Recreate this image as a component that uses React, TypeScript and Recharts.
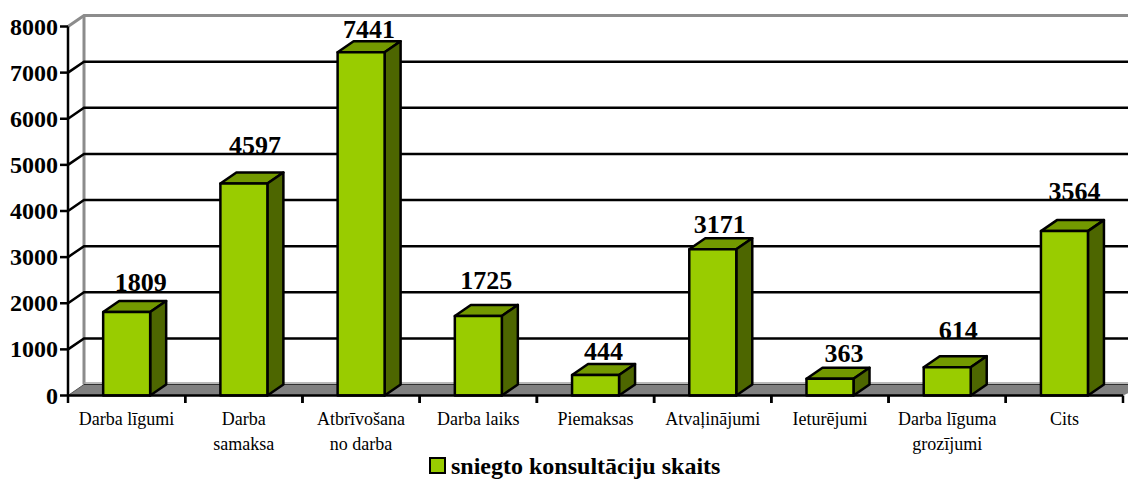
import React from "react";
import { BarChart, Bar, XAxis, YAxis, Legend, LabelList, CartesianGrid } from "recharts";

const categories = ["Darba līgumi", "Darba samaksa", "Atbrīvošana no darba", "Darba laiks", "Piemaksas", "Atvaļinājumi", "Ieturējumi", "Darba līguma grozījumi", "Cits"];
const categoryLines = [["Darba līgumi"], ["Darba", "samaksa"], ["Atbrīvošana", "no darba"], ["Darba laiks"], ["Piemaksas"], ["Atvaļinājumi"], ["Ieturējumi"], ["Darba līguma", "grozījumi"], ["Cits"]];
const values = [1809, 4597, 7441, 1725, 444, 3171, 363, 614, 3564];
const yTicks = [0, 1000, 2000, 3000, 4000, 5000, 6000, 7000, 8000];
const seriesName = "sniegto konsultāciju skaits";

// label placement relative to the bar's top-centre
const labelNudgeX = [14, 11, 8, 8, 8, 7, 14, 11, 10];
const labelNudgeY = [-21, -29, -14, -26.5, -15, -16, -17, -28, -31];

const W = 1128, H = 479;
const PLOT_L = 68, PLOT_R = 1123;
const DX = 16, DY = -11;
const BAND = (PLOT_R - PLOT_L) / categories.length;
const SERIF = "'Liberation Serif', 'Times New Roman', serif";
const LINE = 2.5;

const rows = categories.map((name, i) => ({ name, value: values[i] }));

function GridLine(props: any) {
  const { y1, y, height } = props;
  const ax = PLOT_L;
  const isTop = y1 <= y + 0.5;
  const isBottom = y1 >= y + height - 0.5;
  if (isBottom) {
    return (
      <g>
        <line x1={ax + DX} y1={y + DY} x2={ax + DX} y2={y1 + DY} stroke="#8c8c8c" strokeWidth={3} />
        <polygon points={`${ax},${y1} ${ax + DX},${y1 + DY} ${W + 20},${y1 + DY} ${PLOT_R},${y1}`} fill="#808080" stroke="none" />
        <line x1={ax + DX} y1={y1 + DY - 1.5} x2={W} y2={y1 + DY - 1.5} stroke="#a0a0a0" strokeWidth={1.5} />
        <line x1={ax} y1={y1} x2={ax + DX} y2={y1 + DY} stroke="#555" strokeWidth={1} />
        <line x1={ax + DX} y1={y1 + DY} x2={W} y2={y1 + DY} stroke="#303030" strokeWidth={1} />
      </g>
    );
  }
  if (isTop) {
    return <path d={`M${ax},${y1} L${ax + DX},${y1 + DY} L${W},${y1 + DY}`} fill="none" stroke="#8c8c8c" strokeWidth={3} />;
  }
  return <path d={`M${ax},${y1} L${ax + DX},${y1 + DY} L${W},${y1 + DY}`} fill="none" stroke="#000" strokeWidth={LINE} />;
}

function YTick(props: any) {
  const { x, y, payload } = props;
  return (
    <g>
      <line x1={PLOT_L - 8} y1={y} x2={PLOT_L} y2={y} stroke="#000" strokeWidth={LINE} />
      <text x={x - 2} y={y + 8} textAnchor="end" fontFamily={SERIF} fontWeight="bold" fontSize={24} fill="#000">
        {payload.value}
      </text>
    </g>
  );
}

function XTick(props: any) {
  const { x, payload, index } = props;
  const lines = categoryLines[index] || [String(payload.value)];
  return (
    <g>
      <line x1={x - BAND / 2} y1={395.5} x2={x - BAND / 2} y2={403} stroke="#000" strokeWidth={LINE} />
      <line x1={x + BAND / 2} y1={395.5} x2={x + BAND / 2} y2={403} stroke="#000" strokeWidth={LINE} />
      {lines.map((l: string, i: number) => (
        <text key={i} x={x} y={424.5 + i * 25} textAnchor="middle" fontFamily={SERIF} fontSize={18} fill="#000">
          {l}
        </text>
      ))}
    </g>
  );
}

function Bar3D(props: any) {
  const { x, y, width, height } = props;
  const b = y + height;
  const r = x + width;
  return (
    <g stroke="#000" strokeWidth={LINE} strokeLinejoin="round">
      <polygon points={`${x},${y} ${x + DX},${y + DY} ${r + DX},${y + DY} ${r},${y}`} fill="#739900" />
      <polygon points={`${r},${y} ${r + DX},${y + DY} ${r + DX},${b + DY} ${r},${b}`} fill="#4d6600" />
      <rect x={x} y={y} width={width} height={height} fill="#99cc00" />
    </g>
  );
}

function ValueLabel(props: any) {
  const { x, y, width, value, index } = props;
  return (
    <text x={x + width / 2 + labelNudgeX[index]} y={y + labelNudgeY[index]} textAnchor="middle" fontFamily={SERIF} fontWeight="bold" fontSize={26} fill="#000">
      {value}
    </text>
  );
}

function LegendBox() {
  return (
    <div style={{ position: "absolute", left: 429, top: -1, height: 24, display: "flex", alignItems: "center", fontFamily: SERIF, fontWeight: "bold", fontSize: 24, lineHeight: "24px", color: "#000", whiteSpace: "nowrap" }}>
      <span style={{ display: "inline-block", boxSizing: "border-box", width: 17, height: 17, background: "#99cc00", border: "2.5px solid #000", marginRight: 5, marginTop: -1 }} />
      <span>{seriesName}</span>
    </div>
  );
}

export default function App() {
  return (
    <div style={{ position: "absolute", left: 0, top: 0, width: W, height: H, overflow: "hidden", background: "#fff" }}>
      <BarChart width={W} height={H} data={rows} margin={{ top: 26.5, right: W - PLOT_R, left: 0, bottom: 0 }} barCategoryGap="30%">
        <CartesianGrid vertical={false} horizontal={(p: any) => <GridLine key={p.key} {...p} />} />
        <YAxis domain={[0, 8000]} ticks={yTicks} width={PLOT_L} tick={<YTick />} tickLine={false} axisLine={{ stroke: "#000", strokeWidth: LINE }} interval={0} />
        <XAxis dataKey="name" height={59.5} interval={0} tick={<XTick />} tickLine={false} axisLine={{ stroke: "#000", strokeWidth: LINE }} />
        <Legend verticalAlign="bottom" height={24} content={<LegendBox />} wrapperStyle={{ left: 0, width: W }} />
        <Bar dataKey="value" name={seriesName} shape={<Bar3D />} isAnimationActive={false} fill="#99cc00">
          <LabelList dataKey="value" content={<ValueLabel />} />
        </Bar>
      </BarChart>
    </div>
  );
}
